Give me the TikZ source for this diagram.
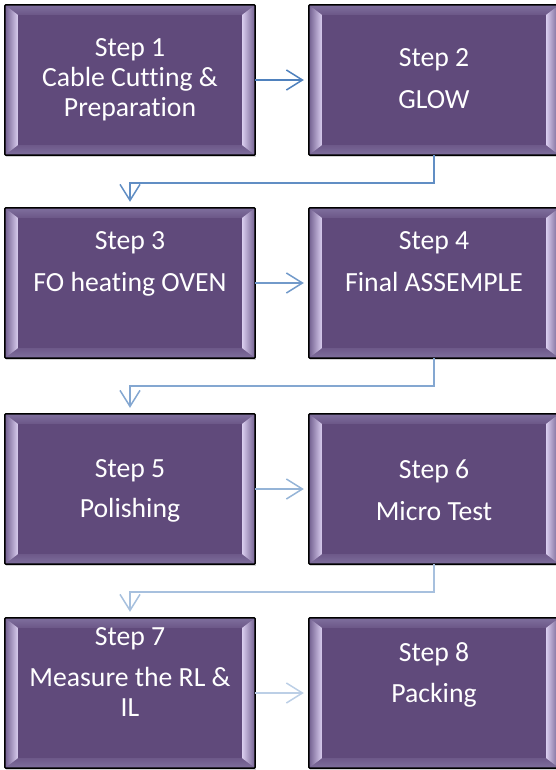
\documentclass[tikz,border=0pt]{standalone}
\usepackage{fontspec}
\setmainfont{Carlito}[Ligatures=NoCommon]
\usetikzlibrary{arrows.meta,shadows}
\definecolor{stepfill}{RGB}{96,74,123}
\definecolor{bevelout}{RGB}{112,94,142}
\definecolor{bevelmid}{RGB}{140,124,172}
\definecolor{bevelin}{RGB}{216,204,238}
\definecolor{beveltop}{RGB}{128,112,158}
\definecolor{flowblue}{RGB}{79,129,189}
\tikzset{
  stepbox/.style={minimum width=250pt, minimum height=150pt, inner sep=0pt, fill=stepfill,
    drop shadow={shadow xshift=1pt, shadow yshift=-2pt, opacity=.35}},
  steptext/.style={text=white, align=center, inner sep=0pt, anchor=north,
    font=\fontsize{27.7pt}{30pt}\selectfont},
  flow/.style={line width=1.5pt, -{Straight Barb[length=16pt,width=20pt]}},
}
\begin{document}
\begin{tikzpicture}[x=1pt,y=1pt]
\useasboundingbox (0,0) rectangle (556,-770);
\foreach \n/\x/\y in {1/130/80,2/434/80,3/130/283,4/434/283,5/130/489,6/434/489,7/130/693,8/434/693} % edit here for the boxes
\node[stepbox] (b\n) at (\x,-\y) {};
\foreach \n in {1,...,8}{ % bevel edges and frame
\shade[top color=beveltop, bottom color=stepfill!75!bevelmid] (b\n.north west) -- (b\n.north east) -- ([shift={(-13,-10)}]b\n.north east) -- ([shift={(13,-10)}]b\n.north west) -- cycle;
\shade[top color=stepfill!70!bevelmid, bottom color=beveltop] (b\n.south west) -- (b\n.south east) -- ([shift={(-13,10)}]b\n.south east) -- ([shift={(13,10)}]b\n.south west) -- cycle;
\shade[left color=bevelout, middle color=bevelmid, right color=bevelin] (b\n.south west) -- (b\n.north west) -- ([shift={(13,-10)}]b\n.north west) -- ([shift={(13,10)}]b\n.south west) -- cycle;
\shade[left color=bevelin, middle color=bevelmid, right color=bevelout] (b\n.south east) -- (b\n.north east) -- ([shift={(-13,-10)}]b\n.north east) -- ([shift={(-13,10)}]b\n.south east) -- cycle;
\draw[line width=1.5pt, rounded corners=1pt] (b\n.south west) rectangle (b\n.north east);
}
\foreach \n/\off/\texto in {1/34/{Step 1\\Cable Cutting \&\\Preparation},2/44/{Step 2\\[12pt]GLOW},3/24/{Step 3\\[12pt]FO heating OVEN},4/24/{Step 4\\[12pt]Final ASSEMPLE},5/46/{Step 5\\[10pt]Polishing},6/46/{Step 6\\[12pt]Micro Test},7/10/{Step 7\\[11pt]Measure the RL \&\\IL},8/25/{Step 8\\[11pt]Packing}}
\node[steptext] (t\n) at ([yshift=-\off]b\n.north) {\texto};
% connectors, fading row by row
\draw[flow, flowblue, shorten >=5pt] (b1.east) -- (b2.west);
\draw[flow, flowblue!90!white, shorten >=6pt] (b2.south) -- ++(0,-28) -| (b3.north);
\draw[flow, flowblue!80!white, shorten >=5pt] (b3.east) -- (b4.west);
\draw[flow, flowblue!70!white, shorten >=6pt] (b4.south) -- ++(0,-28) -| (b5.north);
\draw[flow, flowblue!60!white, shorten >=5pt] (b5.east) -- (b6.west);
\draw[flow, flowblue!50!white, shorten >=6pt] (b6.south) -- ++(0,-28) -| (b7.north);
\draw[flow, flowblue!38!white, shorten >=5pt] (b7.east) -- (b8.west);
\end{tikzpicture}
\end{document}
